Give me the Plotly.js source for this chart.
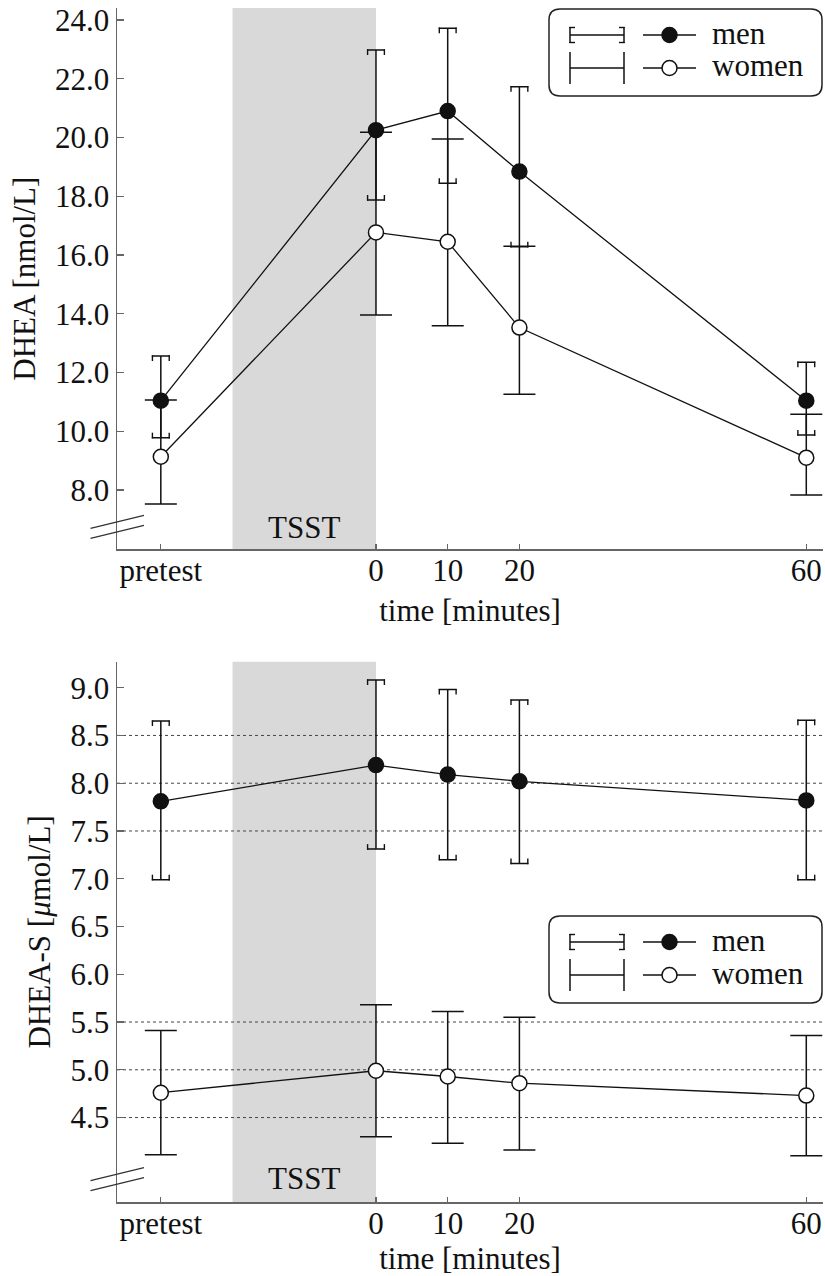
<!DOCTYPE html>
<html><head><meta charset="utf-8">
<script src="https://cdn.plot.ly/plotly-3.0.1.min.js"></script>
<style>html,body{margin:0;padding:0;background:#fff}#chart{width:825px;height:1276px}</style>
</head><body><div id="chart"></div>
<script>
// ---- data ----
const times = [-30, 0, 10, 20, 60];
const tickText = ['pretest', '0', '10', '20', '60'];
const tsstStart = -20, tsstEnd = 0;

const dheaMen = [11.04, 20.25, 20.90, 18.84, 11.04];
const dheaMenUpper = [12.56, 22.98, 23.72, 21.73, 12.35];
const dheaMenLower = [9.78, 17.87, 18.44, 16.28, 9.87];
const dheaWomen = [9.13, 16.77, 16.45, 13.53, 9.10];
const dheaWomenUpper = [11.06, 20.18, 19.95, 16.30, 10.58];
const dheaWomenLower = [7.52, 13.96, 13.59, 11.26, 7.83];

const dhsMen = [7.81, 8.19, 8.09, 8.02, 7.82];
const dhsMenUpper = [8.65, 9.08, 8.98, 8.87, 8.66];
const dhsMenLower = [6.99, 7.31, 7.20, 7.16, 6.99];
const dhsWomen = [4.76, 4.99, 4.93, 4.86, 4.73];
const dhsWomenUpper = [5.41, 5.68, 5.61, 5.55, 5.36];
const dhsWomenLower = [4.11, 4.30, 4.23, 4.16, 4.10];

const dheaTicks = [8, 10, 12, 14, 16, 18, 20, 22, 24];
const dhsTicks = [4.5, 5.0, 5.5, 6.0, 6.5, 7.0, 7.5, 8.0, 8.5, 9.0];
const dhsGrid = [4.5, 5.0, 5.5, 7.5, 8.0, 8.5];
const legendNames = ['men', 'women'];

// ---- style / layout helpers ----
const FONT = '"Liberation Serif"';
const INK = '#111';
const AXC = '#666';
const FS = 31;
const W = 825, H = 1276, M = {l: 117, r: 2, t: 8, b: 74};
const PW = W - M.l - M.r, PH = H - M.t - M.b;
const px = x => (x - M.l) / PW;
const py = y => (H - M.b - y) / PH;

const xRange = [-36.11, 62.33];
const yRange1 = [5.98, 24.41];
const yRange2 = [3.616, 9.272];
const MEN_CAP = 9, WOMEN_CAP = 16;

function trace(xa, ya, y, up, lo, filled, name) {
  return {
    type: 'scatter', mode: 'lines+markers', name: name,
    x: times, y: y, xaxis: xa, yaxis: ya,
    line: {color: INK, width: 1.3},
    marker: {size: 15, color: filled ? INK : '#fff', line: {color: INK, width: 1.5}},
    error_y: {type: 'data', symmetric: false,
      array: up.map((u, i) => u - y[i]),
      arrayminus: lo.map((l, i) => y[i] - l),
      width: filled ? MEN_CAP : WOMEN_CAP, thickness: 1.5, color: INK},
    hoverinfo: 'x+y'
  };
}

const data = [
  trace('x', 'y', dheaWomen, dheaWomenUpper, dheaWomenLower, false, 'women'),
  trace('x', 'y', dheaMen, dheaMenUpper, dheaMenLower, true, 'men'),
  trace('x2', 'y2', dhsWomen, dhsWomenUpper, dhsWomenLower, false, 'women'),
  trace('x2', 'y2', dhsMen, dhsMenUpper, dhsMenLower, true, 'men')
];

const shapes = [];
const annotations = [];

// TSST shading
[['x', 'y domain'], ['x2', 'y2 domain']].forEach(([xr, yr]) => {
  shapes.push({type: 'rect', xref: xr, yref: yr, x0: tsstStart, x1: tsstEnd, y0: 0, y1: 1,
    fillcolor: '#d9d9d9', line: {width: 0}, layer: 'below'});
});
// dotted reference lines (bottom panel)
dhsGrid.forEach(v => shapes.push({type: 'line', xref: 'x2 domain', yref: 'y2', x0: 0, x1: 1, y0: v, y1: v,
  line: {color: '#444', width: 1, dash: 'dot'}, layer: 'below'}));

// bracket ticks on men's caps
function brackets(xr, yr, up, lo) {
  times.forEach((t, i) => {
    [-1, 1].forEach(s => {
      const off = s * (MEN_CAP - 0.6);
      shapes.push({type: 'line', xref: xr, yref: yr, xsizemode: 'pixel', xanchor: t, x0: off, x1: off,
        ysizemode: 'pixel', yanchor: up[i], y0: 0.7, y1: -5, line: {color: INK, width: 1.4}});
      shapes.push({type: 'line', xref: xr, yref: yr, xsizemode: 'pixel', xanchor: t, x0: off, x1: off,
        ysizemode: 'pixel', yanchor: lo[i], y0: -0.7, y1: 5, line: {color: INK, width: 1.4}});
    });
  });
}
brackets('x', 'y', dheaMenUpper, dheaMenLower);
brackets('x2', 'y2', dhsMenUpper, dhsMenLower);

// axis break marks
[549.3, 1201.7].forEach(ay => {
  [[21, 34], [11, 24]].forEach(([a, b]) => {
    shapes.push({type: 'line', xref: 'paper', yref: 'paper',
      x0: px(M.l - 26.5), x1: px(M.l + 27), y0: py(ay - a), y1: py(ay - b),
      line: {color: '#333', width: 1.2}});
  });
});

// TSST labels
annotations.push({xref: 'x', yref: 'paper', x: (tsstStart + tsstEnd) / 2, y: py(527), text: 'TSST',
  showarrow: false, yanchor: 'middle', font: {family: FONT, size: FS, color: INK}});
annotations.push({xref: 'x2', yref: 'paper', x: (tsstStart + tsstEnd) / 2, y: py(1178), text: 'TSST',
  showarrow: false, yanchor: 'middle', font: {family: FONT, size: FS, color: INK}});

// custom legends
function legend(left, top) {
  const right = 822, bottom = top + 87, r = 11;
  const X = v => px(v), Y = v => py(v);
  const rx = r / PW, ry = r / PH;
  const x0 = X(left), x1 = X(right), y0 = Y(top), y1 = Y(bottom);
  const path = `M${x0 + rx},${y0} L${x1 - rx},${y0} Q${x1},${y0} ${x1},${y0 - ry} L${x1},${y1 + ry} Q${x1},${y1} ${x1 - rx},${y1} L${x0 + rx},${y1} Q${x0},${y1} ${x0},${y1 + ry} L${x0},${y0 - ry} Q${x0},${y0} ${x0 + rx},${y0} Z`;
  shapes.push({type: 'path', xref: 'paper', yref: 'paper', path: path, fillcolor: '#fff',
    line: {color: '#222', width: 1.5}});
  const rows = [top + 26, top + 59];
  const L = (xa, ya, xb, yb, w) => shapes.push({type: 'line', xref: 'paper', yref: 'paper',
    x0: X(xa), x1: X(xb), y0: Y(ya), y1: Y(yb), line: {color: INK, width: w || 1.5}});
  const e0 = left + 21, e1 = left + 75;
  // men errorbar icon (bracket caps)
  let ry0 = rows[0];
  L(e0, ry0, e1, ry0);
  L(e0, ry0 - MEN_CAP + 1, e0, ry0 + MEN_CAP - 1);
  L(e1, ry0 - MEN_CAP + 1, e1, ry0 + MEN_CAP - 1);
  L(e0 - 0.7, ry0 - MEN_CAP + 1.5, e0 + 5, ry0 - MEN_CAP + 1.5, 1.4);
  L(e0 - 0.7, ry0 + MEN_CAP - 1.5, e0 + 5, ry0 + MEN_CAP - 1.5, 1.4);
  L(e1 + 0.7, ry0 - MEN_CAP + 1.5, e1 - 5, ry0 - MEN_CAP + 1.5, 1.4);
  L(e1 + 0.7, ry0 + MEN_CAP - 1.5, e1 - 5, ry0 + MEN_CAP - 1.5, 1.4);
  // women errorbar icon
  let ry1 = rows[1];
  L(e0, ry1, e1, ry1);
  L(e0, ry1 - WOMEN_CAP, e0, ry1 + WOMEN_CAP);
  L(e1, ry1 - WOMEN_CAP, e1, ry1 + WOMEN_CAP);
  // line + marker icons
  const l0 = left + 94, l1 = left + 147, mc = left + 120.5, mr = 7.5;
  rows.forEach((ry, k) => {
    L(l0, ry, l1, ry, 1.3);
    shapes.push({type: 'circle', xref: 'paper', yref: 'paper',
      x0: X(mc - mr), x1: X(mc + mr), y0: Y(ry + mr), y1: Y(ry - mr),
      fillcolor: k === 0 ? INK : '#fff', line: {color: INK, width: 1.5}});
    annotations.push({xref: 'paper', yref: 'paper', x: X(left + 161), y: Y(ry - 2),
      xanchor: 'left', yanchor: 'middle', showarrow: false, text: legendNames[k],
      font: {family: FONT, size: FS, color: INK}});
  });
}
legend(549, 9);
legend(549, 916);

const axisFont = {family: FONT, size: FS, color: INK};
function xAxis(anchor) {
  return {anchor: anchor, domain: [0, 1], range: xRange, tickmode: 'array', tickvals: times, ticktext: tickText,
    ticks: 'inside', ticklen: 5, tickwidth: 1.2, tickcolor: AXC, showline: true, linecolor: AXC, linewidth: 1.5,
    showgrid: false, zeroline: false, tickfont: axisFont, ticklabelstandoff: -7,
    title: {text: 'time [minutes]', font: axisFont, standoff: 12}};
}
function yAxis(anchor, domain, range, ticks, title) {
  return {anchor: anchor, domain: domain, range: range, tickmode: 'array', tickvals: ticks, tickformat: '.1f',
    ticks: 'inside', ticklen: 7, tickwidth: 1.2, tickcolor: AXC, showline: true, linecolor: AXC, linewidth: 1.5,
    showgrid: false, zeroline: false, tickfont: axisFont,
    title: {text: title, font: axisFont, standoff: 10}};
}

const layout = {
  width: W, height: H, margin: M, showlegend: false,
  paper_bgcolor: '#fff', plot_bgcolor: '#fff',
  font: {family: FONT, color: INK},
  xaxis: xAxis('y'),
  yaxis: yAxis('x', [py(549.3), 1], yRange1, dheaTicks, 'DHEA [nmol/L]'),
  xaxis2: xAxis('y2'),
  yaxis2: yAxis('x2', [0, py(661.7)], yRange2, dhsTicks, 'DHEA-S [<i>μ</i>mol/L]'),
  shapes: shapes, annotations: annotations
};

Plotly.newPlot('chart', data, layout, {displayModeBar: false, staticPlot: true});
</script></body></html>
